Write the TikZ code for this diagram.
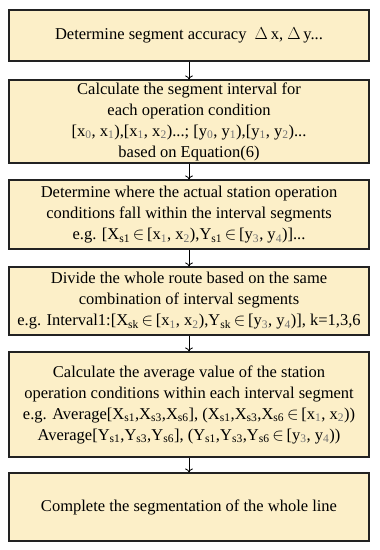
\documentclass[tikz,border=0pt]{standalone}
\usepackage{fontspec}
\setmainfont{Liberation Serif}
\usetikzlibrary{arrows.meta}
\definecolor{boxfill}{HTML}{FCEFC8}
\definecolor{boxdraw}{HTML}{222222}
\newcommand{\sbs}[1]{\textsubscript{#1}}
\newcommand{\gsb}[1]{\textsubscript{\color{black!55}#1}}
\newcommand{\inn}{\,$\in$\,}
\begin{document}
\begin{tikzpicture}[x=1pt,y=-1pt,
  flowbox/.style={draw=boxdraw, line width=1.1pt, fill=boxfill, minimum width=360pt, align=center,
    font=\fontsize{16.5}{21}\selectfont, inner sep=0pt},
  flowarrow/.style={draw=black, line width=0.8pt, -{To[length=4pt,width=8pt]}}]
\useasboundingbox (0,0) rectangle (380,550);
\node[flowbox, minimum height=51pt] (b1) at (189,35.5) {Determine segment accuracy \ $\Delta$\,x, $\Delta$\,y...};
\node[flowbox, minimum height=83pt] (b2) at (189,121.5) {Calculate the segment interval for\\each operation condition\\{}[x\gsb{0}, x\gsb{1}),[x\gsb{1}, x\gsb{2})...; [y\gsb{0}, y\gsb{1}),[y\gsb{1}, y\gsb{2})...\\based on Equation(6)};
\node[flowbox, minimum height=69pt] (b3) at (189,214.5) {Determine where the actual station operation\\conditions fall within the interval segments\\e.g. [X\sbs{s1}\inn[x\gsb{1}, x\gsb{2}),Y\sbs{s1}\inn[y\gsb{3}, y\gsb{4})]...};
\node[flowbox, minimum height=68pt] (b4) at (189,301) {Divide the whole route based on the same\\combination of interval segments\\e.g. Interval1:[X\sbs{sk}\inn[x\gsb{1}, x\gsb{2}),Y\sbs{sk}\inn[y\gsb{3}, y\gsb{4})], k=1,3,6};
\node[flowbox, minimum height=105pt] (b5) at (189,404.5) {Calculate the average value of the station\\operation conditions within each interval segment\\e.g. Average[X\sbs{s1},X\sbs{s3},X\sbs{s6}], (X\sbs{s1},X\sbs{s3},X\sbs{s6}\inn[x\gsb{1}, x\gsb{2}))\\Average[Y\sbs{s1},Y\sbs{s3},Y\sbs{s6}], (Y\sbs{s1},Y\sbs{s3},Y\sbs{s6}\inn[y\gsb{3}, y\gsb{4}))};
\node[flowbox, minimum height=68pt] (b6) at (189,507) {Complete the segmentation of the whole line};
\draw[flowarrow] (b1) -- (b2);
\draw[flowarrow] (b2) -- (b3);
\draw[flowarrow] (b3) -- (b4);
\draw[flowarrow] (b4) -- (b5);
\draw[flowarrow] (b5) -- (b6);
\end{tikzpicture}
\end{document}
